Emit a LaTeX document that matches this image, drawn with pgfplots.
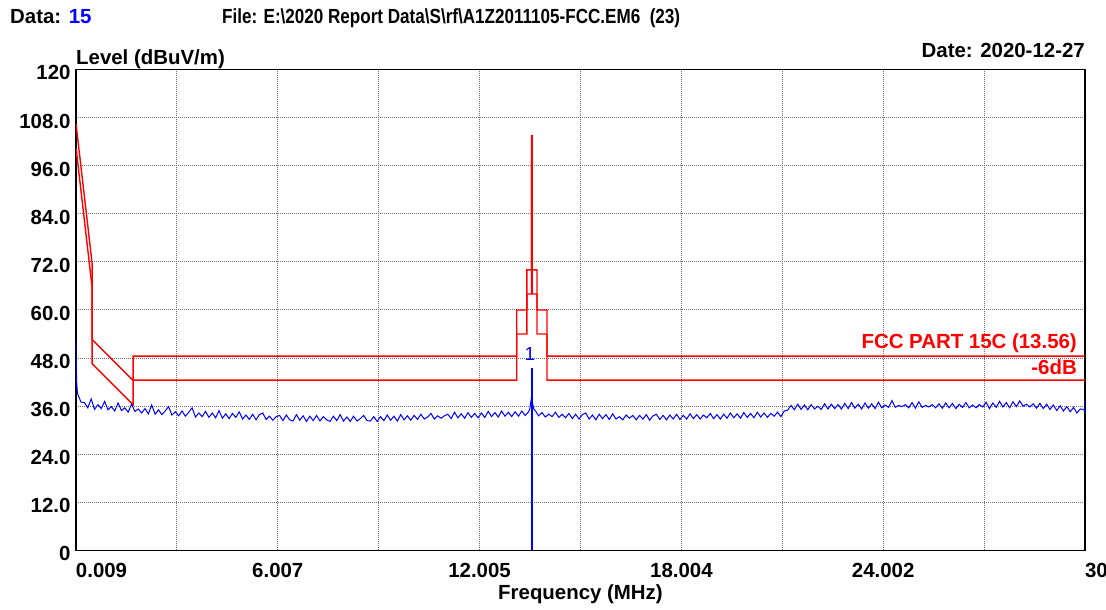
\documentclass[border=0pt]{standalone}
\usepackage{fontspec}
\setmainfont{Liberation Sans}
\usepackage{graphicx}
\usepackage{pgfplots}
\usepackage{pgfplotstable}
\pgfplotsset{compat=1.18}
\definecolor{gridgray}{RGB}{115,115,115}
\definecolor{limred}{RGB}{255,0,0}
\definecolor{trblue}{RGB}{0,0,255}
\newcommand{\lbl}{\bfseries\fontsize{20.5}{24}\selectfont}
\pgfplotstableread[row sep=\\]{v\\
39.0\\37.0\\36.9\\35.6\\37.8\\35.2\\36.4\\35.4\\37.2\\35.1\\
35.9\\34.8\\36.8\\34.9\\35.6\\34.5\\36.5\\34.7\\35.3\\34.3\\
35.4\\34.1\\36.3\\34.0\\35.1\\33.9\\34.8\\35.9\\33.8\\34.6\\
33.6\\34.8\\33.5\\34.5\\35.6\\33.3\\34.3\\33.4\\34.7\\33.2\\
34.3\\33.1\\34.9\\33.0\\34.1\\32.9\\34.2\\33.2\\34.6\\32.8\\
33.8\\32.7\\34.0\\32.6\\33.9\\34.3\\32.7\\33.5\\32.5\\33.4\\
33.7\\32.4\\33.8\\32.6\\32.3\\33.9\\32.5\\33.6\\32.2\\33.5\\
32.4\\33.7\\32.3\\33.4\\32.6\\32.2\\33.5\\32.4\\33.9\\32.3\\
33.3\\32.2\\33.5\\32.3\\32.9\\33.7\\32.4\\32.3\\33.4\\32.2\\
33.4\\32.4\\33.8\\32.5\\33.5\\32.3\\33.9\\32.6\\33.6\\32.5\\
33.7\\32.7\\34.0\\32.8\\33.3\\34.2\\32.8\\33.6\\33.0\\33.6\\
34.0\\32.9\\34.5\\33.1\\34.1\\33.0\\34.4\\33.2\\34.2\\33.1\\
34.3\\33.2\\34.7\\33.4\\34.4\\33.3\\34.8\\33.5\\34.5\\33.4\\
34.6\\33.5\\34.8\\33.7\\34.6\\
}\traceA
\pgfplotstableread[row sep=\\]{v\\
34.9\\33.6\\34.4\\33.3\\34.0\\33.4\\34.5\\33.2\\34.0\\33.1\\
34.2\\32.9\\34.0\\32.8\\33.9\\34.3\\32.8\\33.8\\32.6\\34.0\\
32.9\\33.9\\32.7\\34.1\\32.8\\33.4\\32.6\\33.8\\33.0\\33.7\\
32.6\\33.7\\32.8\\33.9\\32.5\\33.6\\34.0\\32.7\\33.7\\32.6\\
33.8\\32.8\\34.0\\32.7\\33.7\\32.8\\34.1\\32.9\\33.9\\32.8\\
33.8\\33.1\\34.2\\32.9\\33.9\\32.8\\34.0\\33.0\\34.3\\33.1\\
34.1\\33.0\\34.4\\33.2\\34.2\\33.1\\34.5\\33.3\\34.3\\33.2\\
34.2\\33.5\\34.5\\33.4\\34.8\\35.0\\36.2\\35.1\\36.5\\35.2\\
36.3\\35.1\\36.4\\35.3\\36.0\\35.2\\36.6\\35.3\\36.5\\35.4\\
36.4\\35.3\\36.7\\35.4\\36.9\\35.5\\36.5\\35.3\\36.8\\35.5\\
36.6\\35.4\\37.0\\35.6\\36.3\\35.7\\37.4\\35.7\\36.2\\35.9\\
36.4\\35.6\\36.9\\35.5\\37.1\\35.7\\36.2\\35.8\\36.4\\35.6\\
36.6\\35.5\\36.8\\35.6\\36.7\\35.4\\36.5\\35.7\\36.9\\35.6\\
36.3\\35.6\\36.4\\35.8\\37.0\\35.4\\36.8\\35.7\\37.2\\35.8\\
36.9\\35.6\\37.1\\35.9\\37.3\\36.0\\36.5\\35.8\\36.6\\35.5\\
36.7\\35.4\\36.5\\35.2\\36.3\\34.9\\36.1\\34.8\\35.9\\34.6\\
35.7\\34.3\\35.3\\35.2\\
}\traceB
\begin{document}
\begin{tikzpicture}[x=1bp,y=1bp]
\begin{axis}[
  at={(0,0)}, anchor=south west,
  scale only axis, width=1009bp, height=481bp,
  xmin=0.009, xmax=30, ymin=0, ymax=120,
  xtick={0.009,6.007,12.005,18.004,24.002,30},
  xticklabels={\rlap{0.009},6.007,12.005,18.004,24.002,\rlap{30}},
  minor xtick={3.008,9.006,15.0045,21.003,27.001},
  ytick={0,12,...,120},
  yticklabels={0,12.0,24.0,36.0,48.0,60.0,72.0,84.0,96.0,108.0,120},
  xmajorgrids, xminorgrids, ymajorgrids,
  grid style={gridgray, line width=1bp, dash pattern=on 1bp off 1bp},
  minor grid style={gridgray, line width=1bp, dash pattern=on 1bp off 1bp},
  major tick length=0pt, minor tick length=0pt,
  axis line style={black, line width=1.7bp},
  ticklabel style={font=\lbl},
  /pgf/number format/assume math mode=true,
  xticklabel style={anchor=base, inner sep=0pt, yshift=-27.5bp},
  yticklabel style={anchor=base east, inner sep=0pt, xshift=-5.3bp, yshift=-10.5bp},
]
% limit line
\addplot[limred, line width=1.4bp, mark=none] coordinates {
(0.009,106.5)(0.49,71.5)(0.49,52.6)(1.705,42.4)(1.705,48.5)(13.11,48.5)(13.11,60)(13.41,60)(13.41,70)(13.553,70)(13.553,103.5)(13.567,103.5)(13.567,70)(13.71,70)(13.71,60)(14.01,60)(14.01,48.5)(30,48.5)};
% limit -6 dB
\addplot[limred, line width=1.4bp, mark=none] coordinates {
(0.009,100.5)(0.49,65.5)(0.49,46.6)(1.705,36.4)(1.705,42.5)(13.11,42.5)(13.11,54)(13.41,54)(13.41,64)(13.553,64)(13.553,97.5)(13.567,97.5)(13.567,64)(13.71,64)(13.71,54)(14.01,54)(14.01,42.5)(30,42.5)};
% trace
\addplot[trblue, line width=1bp, mark=none] coordinates {
(0.009,52.0)(0.012,50.5)(0.015,48.5)(0.02,45.5)(0.03,42.0)(0.045,40.0)(0.06,39.0)};
\addplot[trblue, line width=1bp, mark=none] table[x expr=0.06+0.1*\coordindex, y=v] {\traceA};
\addplot[trblue, line width=1bp, mark=none] coordinates {
(13.46,34.6)(13.50,35.4)(13.52,36.8)(13.54,37.6)(13.55,38.5)(13.56,45.5)(13.565,39.0)(13.58,36.6)(13.62,35.2)(13.66,34.9)};
\addplot[trblue, line width=1bp, mark=none] table[x expr=13.66+0.1*\coordindex, y=v] {\traceB};
\addplot[trblue, line width=1bp, mark=none] coordinates {(29.96,35.2)(29.99,34.5)(30,37.5)};
% marker line
\addplot[trblue, line width=1.2bp, mark=none] coordinates {(13.56,0)(13.56,45.5)};
\node[text=trblue, anchor=base, inner sep=0pt, font=\fontsize{19}{22}\selectfont] at (axis cs:13.50,47.4) {1};
\end{axis}
\node[anchor=base west, inner sep=0pt, font=\lbl] at (-66,526.5) {Data: \textcolor{trblue}{15}};
\node[anchor=base west, inner sep=0pt, font=\lbl] at (146,526.5) {\scalebox{0.836}[1]{File: E:\textbackslash 2020 Report Data\textbackslash S\textbackslash rf\textbackslash A1Z2011105-FCC.EM6\ \ (23)}};
\node[anchor=base west, inner sep=0pt, font=\lbl] at (0,485.5) {Level (dBuV/m)};
\node[anchor=base east, inner sep=0pt, font=\lbl] at (1009,492.5) {Date: 2020-12-27};
\node[anchor=base east, inner sep=0pt, font=\lbl, text=limred] at (1001,201.5) {FCC PART 15C (13.56)};
\node[anchor=base east, inner sep=0pt, font=\lbl, text=limred] at (1001,175.5) {-6dB};
\node[anchor=base, inner sep=0pt, font=\lbl] at (504.5,-49.5) {Frequency (MHz)};
\path[use as bounding box] (-76,-59.5) rectangle (1030,550.5);
\end{tikzpicture}
\end{document}
